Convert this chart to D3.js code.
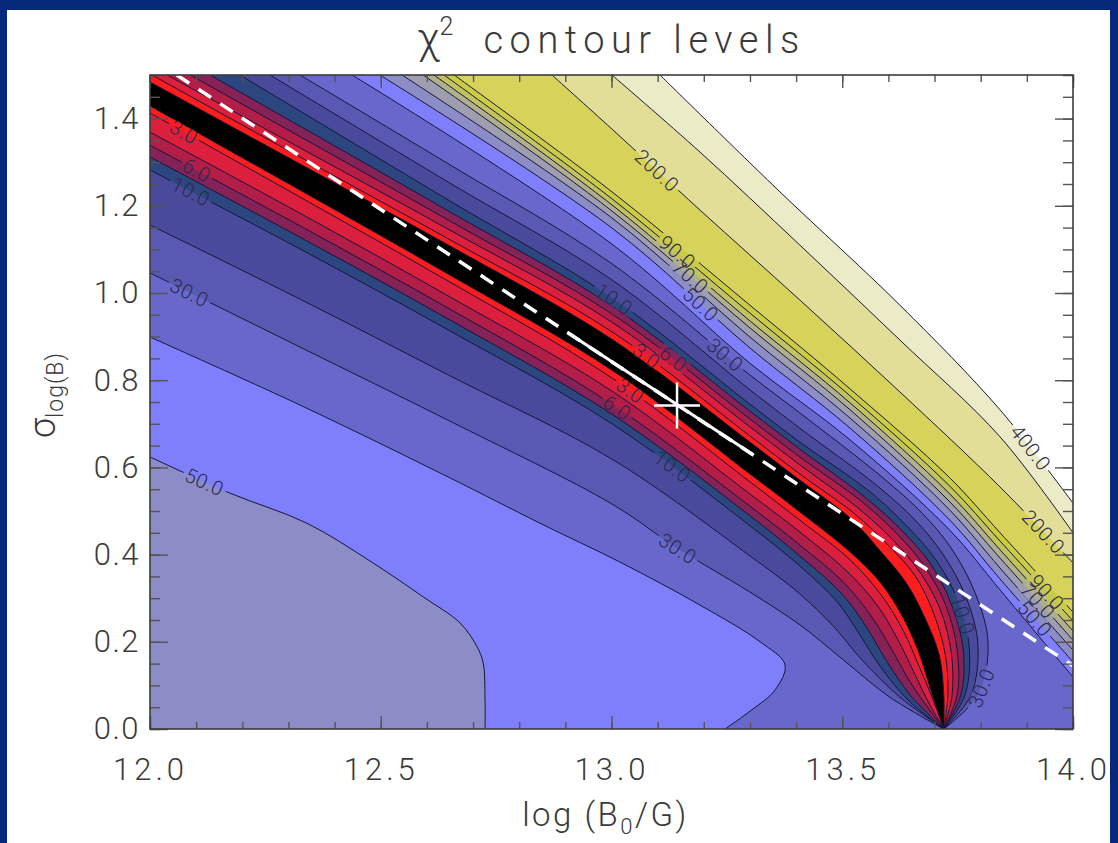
<!DOCTYPE html>
<html>
<head>
<meta charset="utf-8">
<script src="https://cdn.jsdelivr.net/npm/d3@7"></script>
<style>
  body { margin: 0; background: #06287a; }
</style>
</head>
<body>
<div id="chart"></div>
<script>
// contour levels of chi^2 and the fill colour of every band (below first level ... above last)
const levels = [2, 3, 4, 6, 8, 10, 20, 30, 40, 50, 60, 70, 80, 90, 100, 200, 300, 400];
const bandColors = ["#000000", "#ff1c1c", "#dc1f3c", "#b21e48", "#852257", "#2c4680", "#4a4a9c",
  "#5959b3", "#6868cc", "#7f7ffc", "#8c8cc6", "#9e9eb0", "#b0b08c", "#c2c260", "#cccc44",
  "#d6d25a", "#e2de98", "#ecebc8", "#ffffff"];

// contour branches below / left of the valley, [log B0, sigma]
const low2  = [[12.0,1.429],[12.325,1.236],[12.65,1.041],[13.001,0.823],[13.3,0.585],[13.408,0.498],[13.517,0.406],[13.582,0.337],[13.629,0.261],[13.664,0.181],[13.692,0.089],[13.72,0]];
const low3  = [[12.0,1.413],[12.325,1.220],[12.65,1.025],[13.001,0.805],[13.3,0.567],[13.408,0.479],[13.517,0.388],[13.586,0.305],[13.634,0.222],[13.668,0.140],[13.697,0.067],[13.72,0]];
const low4  = [[12.0,1.369],[12.325,1.183],[12.65,0.991],[13.001,0.775],[13.3,0.539],[13.408,0.452],[13.512,0.360],[13.577,0.282],[13.621,0.204],[13.658,0.124],[13.690,0.055],[13.72,0]];
const low6  = [[12.0,1.339],[12.325,1.154],[12.65,0.963],[13.001,0.745],[13.3,0.511],[13.408,0.422],[13.506,0.333],[13.564,0.257],[13.608,0.181],[13.651,0.101],[13.72,0]];
const low8  = [[12.0,1.312],[12.325,1.128],[12.65,0.938],[13.001,0.722],[13.3,0.489],[13.408,0.397],[13.499,0.310],[13.551,0.236],[13.595,0.158],[13.647,0.078],[13.72,0]];
const low10 = [[12.0,1.282],[12.325,1.101],[12.65,0.913],[13.001,0.700],[13.3,0.466],[13.408,0.374],[13.491,0.289],[13.538,0.216],[13.582,0.144],[13.642,0.067],[13.72,0]];
const low20 = [[12.0,1.156],[12.325,0.986],[12.65,0.810],[13.001,0.619],[13.3,0.397],[13.408,0.310],[13.484,0.232],[13.543,0.158],[13.625,0.073],[13.72,0]];
const low30 = [[12.0,1.046],[12.325,0.876],[12.65,0.706],[13.001,0.516],[13.142,0.415],[13.3,0.314],[13.408,0.239],[13.495,0.165],[13.603,0.073],[13.72,0]];
const low40 = [[12.0,0.899],[12.325,0.743],[12.65,0.576],[12.845,0.472],[13.018,0.383],[13.192,0.284],[13.322,0.200],[13.376,0.147],[13.354,0.089],[13.304,0.044],[13.246,0]];
const low50 = [[12.0,0.624],[12.173,0.541],[12.340,0.472],[12.483,0.381],[12.592,0.303],[12.672,0.243],[12.709,0.188],[12.722,0.151],[12.726,0.067],[12.726,0]];

// contour branches above / right of the valley
const up2   = [[12.0,1.484],[12.325,1.296],[12.65,1.108],[13.001,0.894],[13.3,0.658],[13.408,0.571],[13.517,0.484],[13.586,0.404],[13.640,0.333],[13.679,0.255],[13.710,0.170],[13.720,0.078],[13.72,0]];
const up3   = [[12.004,1.5],[12.325,1.312],[12.65,1.122],[13.001,0.911],[13.3,0.672],[13.408,0.585],[13.525,0.495],[13.601,0.420],[13.658,0.351],[13.697,0.268],[13.723,0.172],[13.729,0.078],[13.72,0]];
const up4   = [[12.037,1.5],[12.325,1.333],[12.65,1.144],[13.001,0.933],[13.3,0.693],[13.408,0.606],[13.534,0.507],[13.612,0.431],[13.668,0.360],[13.712,0.275],[13.736,0.177],[13.738,0.078],[13.72,0]];
const up6   = [[12.087,1.5],[12.65,1.165],[13.001,0.952],[13.3,0.711],[13.408,0.624],[13.543,0.521],[13.623,0.443],[13.681,0.369],[13.725,0.282],[13.749,0.181],[13.749,0.078],[13.72,0]];
const up8   = [[12.13,1.5],[12.65,1.186],[13.001,0.970],[13.3,0.729],[13.408,0.642],[13.551,0.530],[13.632,0.452],[13.692,0.378],[13.736,0.287],[13.762,0.183],[13.757,0.078],[13.72,0]];
const up10  = [[12.195,1.5],[12.65,1.211],[13.001,0.989],[13.3,0.745],[13.408,0.658],[13.560,0.544],[13.642,0.463],[13.703,0.388],[13.751,0.294],[13.775,0.188],[13.766,0.078],[13.72,0]];
const up20  = [[12.26,1.5],[12.65,1.252],[13.001,1.030],[13.3,0.778],[13.408,0.690],[13.573,0.560],[13.658,0.479],[13.718,0.401],[13.768,0.303],[13.794,0.193],[13.779,0.078],[13.72,0]];
const up30  = [[12.325,1.5],[12.65,1.294],[13.001,1.067],[13.3,0.812],[13.408,0.725],[13.586,0.578],[13.673,0.495],[13.736,0.415],[13.788,0.312],[13.816,0.197],[13.794,0.078],[13.72,0]];
const up40  = [[12.438,1.5],[13.001,1.112],[13.3,0.839],[13.517,0.663],[13.733,0.456],[13.842,0.319],[14.0,0.119]];
const up50  = [[12.498,1.5],[13.001,1.149],[13.3,0.874],[13.517,0.690],[13.733,0.479],[13.842,0.344],[14.0,0.154]];
const up60  = [[12.546,1.5],[13.001,1.172],[13.3,0.899],[13.517,0.713],[13.733,0.502],[13.842,0.369],[14.0,0.181]];
const up70  = [[12.592,1.5],[13.001,1.188],[13.3,0.920],[13.517,0.732],[13.733,0.521],[13.842,0.392],[14.0,0.204]];
const up80  = [[12.615,1.5],[13.001,1.202],[13.3,0.936],[13.517,0.748],[13.733,0.539],[13.842,0.411],[14.0,0.225]];
const up90  = [[12.637,1.5],[13.001,1.216],[13.3,0.954],[13.517,0.764],[13.733,0.557],[13.842,0.431],[14.0,0.248]];
const up100 = [[12.659,1.5],[13.001,1.232],[13.3,0.972],[13.517,0.780],[13.733,0.576],[13.842,0.450],[14.0,0.268]];
const up200 = [[12.871,1.5],[13.001,1.376],[13.192,1.190],[13.408,0.984],[13.625,0.773],[13.842,0.555],[14.0,0.381]];
const up300 = [[13.001,1.5],[13.192,1.323],[13.408,1.110],[13.625,0.892],[13.842,0.670],[14.0,0.450]];
const up400 = [[13.105,1.5],[13.365,1.232],[13.625,0.972],[13.842,0.732],[14.0,0.518]];

// fitted relation (dashed), its 1-sigma range (solid) and best fit (cross)
const fitLine = [[12.058,1.5],[14.0,0.145]];
const fitRange = [[12.904,0.910],[13.307,0.629]];
const bestFit = [13.142, 0.742];

// contour labels: side, level, approximate place
const contourLabels = [
  ["low",3,12.076,1.374], ["low",6,12.100,1.278], ["low",10,12.087,1.232], ["low",30,12.087,1.002],
  ["low",50,12.119,0.567], ["low",3,13.040,0.773], ["low",6,13.012,0.736], ["low",10,13.133,0.606],
  ["low",30,13.142,0.411], ["up",3,13.073,0.853], ["up",6,13.133,0.846], ["up",10,13.003,0.984],
  ["up",30,13.246,0.858], ["up",50,13.192,0.972], ["up",70,13.170,1.037], ["up",90,13.142,1.092],
  ["up",200,13.101,1.282], ["up",400,13.907,0.644], ["up",200,13.935,0.452], ["up",90,13.944,0.314],
  ["up",70,13.924,0.294], ["up",50,13.913,0.250], ["up",10,13.781,0.268], ["up",30,13.842,0.078]
];

const xTicks = [12.0, 12.5, 13.0, 13.5, 14.0];
const yTicks = [0.0, 0.2, 0.4, 0.6, 0.8, 1.0, 1.2, 1.4];

const lowerBranches = [[2,low2],[3,low3],[4,low4],[6,low6],[8,low8],[10,low10],[20,low20],[30,low30],[40,low40],[50,low50]];
const upperBranches = [[2,up2],[3,up3],[4,up4],[6,up6],[8,up8],[10,up10],[20,up20],[30,up30],[40,up40],[50,up50],
  [60,up60],[70,up70],[80,up80],[90,up90],[100,up100],[200,up200],[300,up300],[400,up400]];

// ------------------------------------------------------------
const W = 1118, H = 843;
const margin = {top: 75, right: 45, bottom: 114, left: 150},
    width = W - margin.left - margin.right,
    height = H - margin.top - margin.bottom;
const font = "Roboto, 'DejaVu Sans', sans-serif";
const textCol = "#3a3a3a";

const svg = d3.select("#chart").append("svg")
    .attr("width", W).attr("height", H);

svg.append("rect").attr("width", W).attr("height", H).attr("fill", "#06287a");
svg.append("rect").attr("x", 7).attr("y", 10).attr("width", 1103).attr("height", H - 10).attr("fill", "#fff");

const defs = svg.append("defs");
defs.append("clipPath").attr("id", "plot-clip")
  .append("rect").attr("width", width).attr("height", height);
const mask = defs.append("mask").attr("id", "gaps")
    .attr("maskUnits", "userSpaceOnUse")
    .attr("x", -5).attr("y", -5).attr("width", width + 10).attr("height", height + 10);
mask.append("rect").attr("x", -5).attr("y", -5).attr("width", width + 10).attr("height", height + 10).attr("fill", "#fff");

const plot = svg.append("g").attr("transform", `translate(${margin.left},${margin.top})`);

const x = d3.scaleLinear().domain([12, 14]).range([0, width]);
const y = d3.scaleLinear().domain([0, 1.5]).range([height, 0]);

const line = d3.line()
    .x(d => x(d[0])).y(d => y(d[1]))
    .curve(d3.curveCatmullRom.alpha(0.5));

const P = c => `L${x(c[0])},${y(c[1])}`;

// region beyond a lower branch (towards bottom-left corner)
function lowerArea(pts) {
  return line(pts) + P([12, 0]) + "Z";
}
// region beyond an upper branch (towards top-right corner)
function upperArea(pts) {
  const c = [];
  if (pts[pts.length - 1][1] <= 0.0001) c.push([14, 0]);
  c.push([14, 1.5]);
  if (pts[0][0] <= 12.0001) c.push([12, 1.5]);
  return line(pts) + c.map(P).join("") + "Z";
}

const fills = plot.append("g").attr("clip-path", "url(#plot-clip)");
fills.append("rect").attr("width", width).attr("height", height).attr("fill", bandColors[0]);

fills.selectAll(".low").data(lowerBranches).join("path")
    .attr("class", "low")
    .attr("d", d => lowerArea(d[1]))
    .attr("fill", d => bandColors[levels.indexOf(d[0]) + 1]);

fills.selectAll(".up").data(upperBranches).join("path")
    .attr("class", "up")
    .attr("d", d => upperArea(d[1]))
    .attr("fill", d => bandColors[levels.indexOf(d[0]) + 1]);

// contour lines
const allBranches = lowerBranches.map(d => ({key: "low" + d[0], pts: d[1]}))
  .concat(upperBranches.map(d => ({key: "up" + d[0], pts: d[1]})));

const lineG = plot.append("g").attr("clip-path", "url(#plot-clip)")
  .append("g").attr("mask", "url(#gaps)");
const pathNodes = {};
lineG.selectAll("path").data(allBranches).join("path")
    .attr("d", d => line(d.pts))
    .attr("fill", "none")
    .attr("stroke", "#16163a")
    .attr("stroke-width", 1)
    .each(function(d) { pathNodes[d.key] = this; });

// labels along the lines
const labelG = plot.append("g");
const fmt = d3.format(".1f");
contourLabels.forEach(([side, level, lx, ly]) => {
  const node = pathNodes[side + level];
  const total = node.getTotalLength();
  const px = x(lx), py = y(ly);
  let best = 0, bestD = Infinity;
  for (let s = 0; s <= total; s += 1) {
    const p = node.getPointAtLength(s);
    const dd = (p.x - px) ** 2 + (p.y - py) ** 2;
    if (dd < bestD) { bestD = dd; best = s; }
  }
  const p0 = node.getPointAtLength(Math.max(0, best - 8));
  const p1 = node.getPointAtLength(Math.min(total, best + 8));
  let ang = Math.atan2(p1.y - p0.y, p1.x - p0.x) * 180 / Math.PI;
  if (ang > 90) ang -= 180;
  if (ang < -90) ang += 180;
  const c = node.getPointAtLength(best);
  const tr = `translate(${c.x},${c.y}) rotate(${ang})`;
  const t = labelG.append("text")
      .attr("transform", tr)
      .attr("text-anchor", "middle")
      .attr("dy", "0.36em")
      .attr("font-family", font)
      .attr("font-weight", 300)
      .attr("font-size", 20)
      .attr("letter-spacing", 0.5)
      .attr("fill", "#2a2a4a")
      .text(fmt(level));
  const w = t.node().getComputedTextLength();
  mask.append("rect").attr("transform", tr)
      .attr("x", -w / 2 - 3).attr("y", -7).attr("width", w + 6).attr("height", 14)
      .attr("fill", "#000");
});

// fitted relation
const straight = d3.line().x(d => x(d[0])).y(d => y(d[1]));
const over = plot.append("g").attr("clip-path", "url(#plot-clip)");
over.append("path").attr("d", straight(fitLine))
    .attr("fill", "none").attr("stroke", "#fff")
    .attr("stroke-width", 3.5).attr("stroke-dasharray", "15,11");
over.append("path").attr("d", straight(fitRange))
    .attr("fill", "none").attr("stroke", "#fff").attr("stroke-width", 3);
const cx = x(bestFit[0]), cy = y(bestFit[1]), arm = 23;
over.append("path")
    .attr("d", `M${cx - arm},${cy}H${cx + arm}M${cx},${cy - arm}V${cy + arm}`)
    .attr("stroke", "#fff").attr("stroke-width", 2.5);

// axes, ticks pointing inwards
function styleAxis(g) {
  g.select(".domain").remove();
  g.selectAll("line").attr("stroke", "#555").attr("stroke-width", 1.4);
  g.selectAll("text")
    .attr("font-family", font).attr("font-weight", 300)
    .attr("fill", textCol);
}

plot.append("g").attr("transform", `translate(0,${height})`)
    .call(d3.axisBottom(x).tickValues(x.ticks(20)).tickSize(-7).tickFormat(""))
    .call(styleAxis);
plot.append("g").attr("transform", `translate(0,${height})`)
    .call(d3.axisBottom(x).tickValues(xTicks).tickSize(-13).tickPadding(29).tickFormat(d3.format(".1f")))
    .call(styleAxis)
    .selectAll("text").attr("font-size", 31).attr("letter-spacing", 4);
plot.append("g")
    .call(d3.axisTop(x).tickValues(x.ticks(20)).tickSize(-7).tickFormat(""))
    .call(styleAxis);
plot.append("g")
    .call(d3.axisTop(x).tickValues(xTicks).tickSize(-13).tickFormat(""))
    .call(styleAxis);

plot.append("g")
    .call(d3.axisLeft(y).tickValues(y.ticks(30)).tickSize(-10).tickFormat(""))
    .call(styleAxis);
plot.append("g")
    .call(d3.axisLeft(y).tickValues(yTicks).tickSize(-18).tickPadding(10).tickFormat(d3.format(".1f")))
    .call(styleAxis)
    .selectAll("text").attr("font-size", 31).attr("letter-spacing", 1.5);
plot.append("g").attr("transform", `translate(${width},0)`)
    .call(d3.axisRight(y).tickValues(y.ticks(30)).tickSize(-10).tickFormat(""))
    .call(styleAxis);
plot.append("g").attr("transform", `translate(${width},0)`)
    .call(d3.axisRight(y).tickValues(yTicks).tickSize(-18).tickFormat(""))
    .call(styleAxis);

plot.append("rect")
    .attr("width", width).attr("height", height)
    .attr("fill", "none").attr("stroke", "#3c3c3c").attr("stroke-width", 1.6);

// title
const title = svg.append("text")
    .attr("x", margin.left + width / 2).attr("y", 53)
    .attr("text-anchor", "middle")
    .attr("font-family", font).attr("font-weight", 300)
    .attr("fill", textCol);
title.append("tspan").attr("font-size", 42).text("χ");
title.append("tspan").attr("font-size", 25).attr("dy", -18).text("2");
title.append("tspan").attr("font-size", 38).attr("dy", 18).attr("dx", 30)
    .attr("letter-spacing", 6.5).text("contour levels");

// x label
const xl = svg.append("text")
    .attr("x", margin.left + width / 2 - 6).attr("y", 826)
    .attr("text-anchor", "middle")
    .attr("font-family", font).attr("font-weight", 300)
    .attr("fill", textCol).attr("letter-spacing", 2.5);
xl.append("tspan").attr("font-size", 33).text("log (B");
xl.append("tspan").attr("font-size", 22).attr("dy", 8).text("0");
xl.append("tspan").attr("font-size", 33).attr("dy", -8).text("/G)");

// y label
const yl = svg.append("text")
    .attr("transform", "translate(55,395) rotate(-90)")
    .attr("text-anchor", "middle")
    .attr("font-family", font).attr("font-weight", 300)
    .attr("fill", textCol);
yl.append("tspan").attr("font-size", 36).text("σ");
yl.append("tspan").attr("font-size", 23).attr("dy", 8).attr("letter-spacing", 1).text("log(B)");
</script>
</body>
</html>
